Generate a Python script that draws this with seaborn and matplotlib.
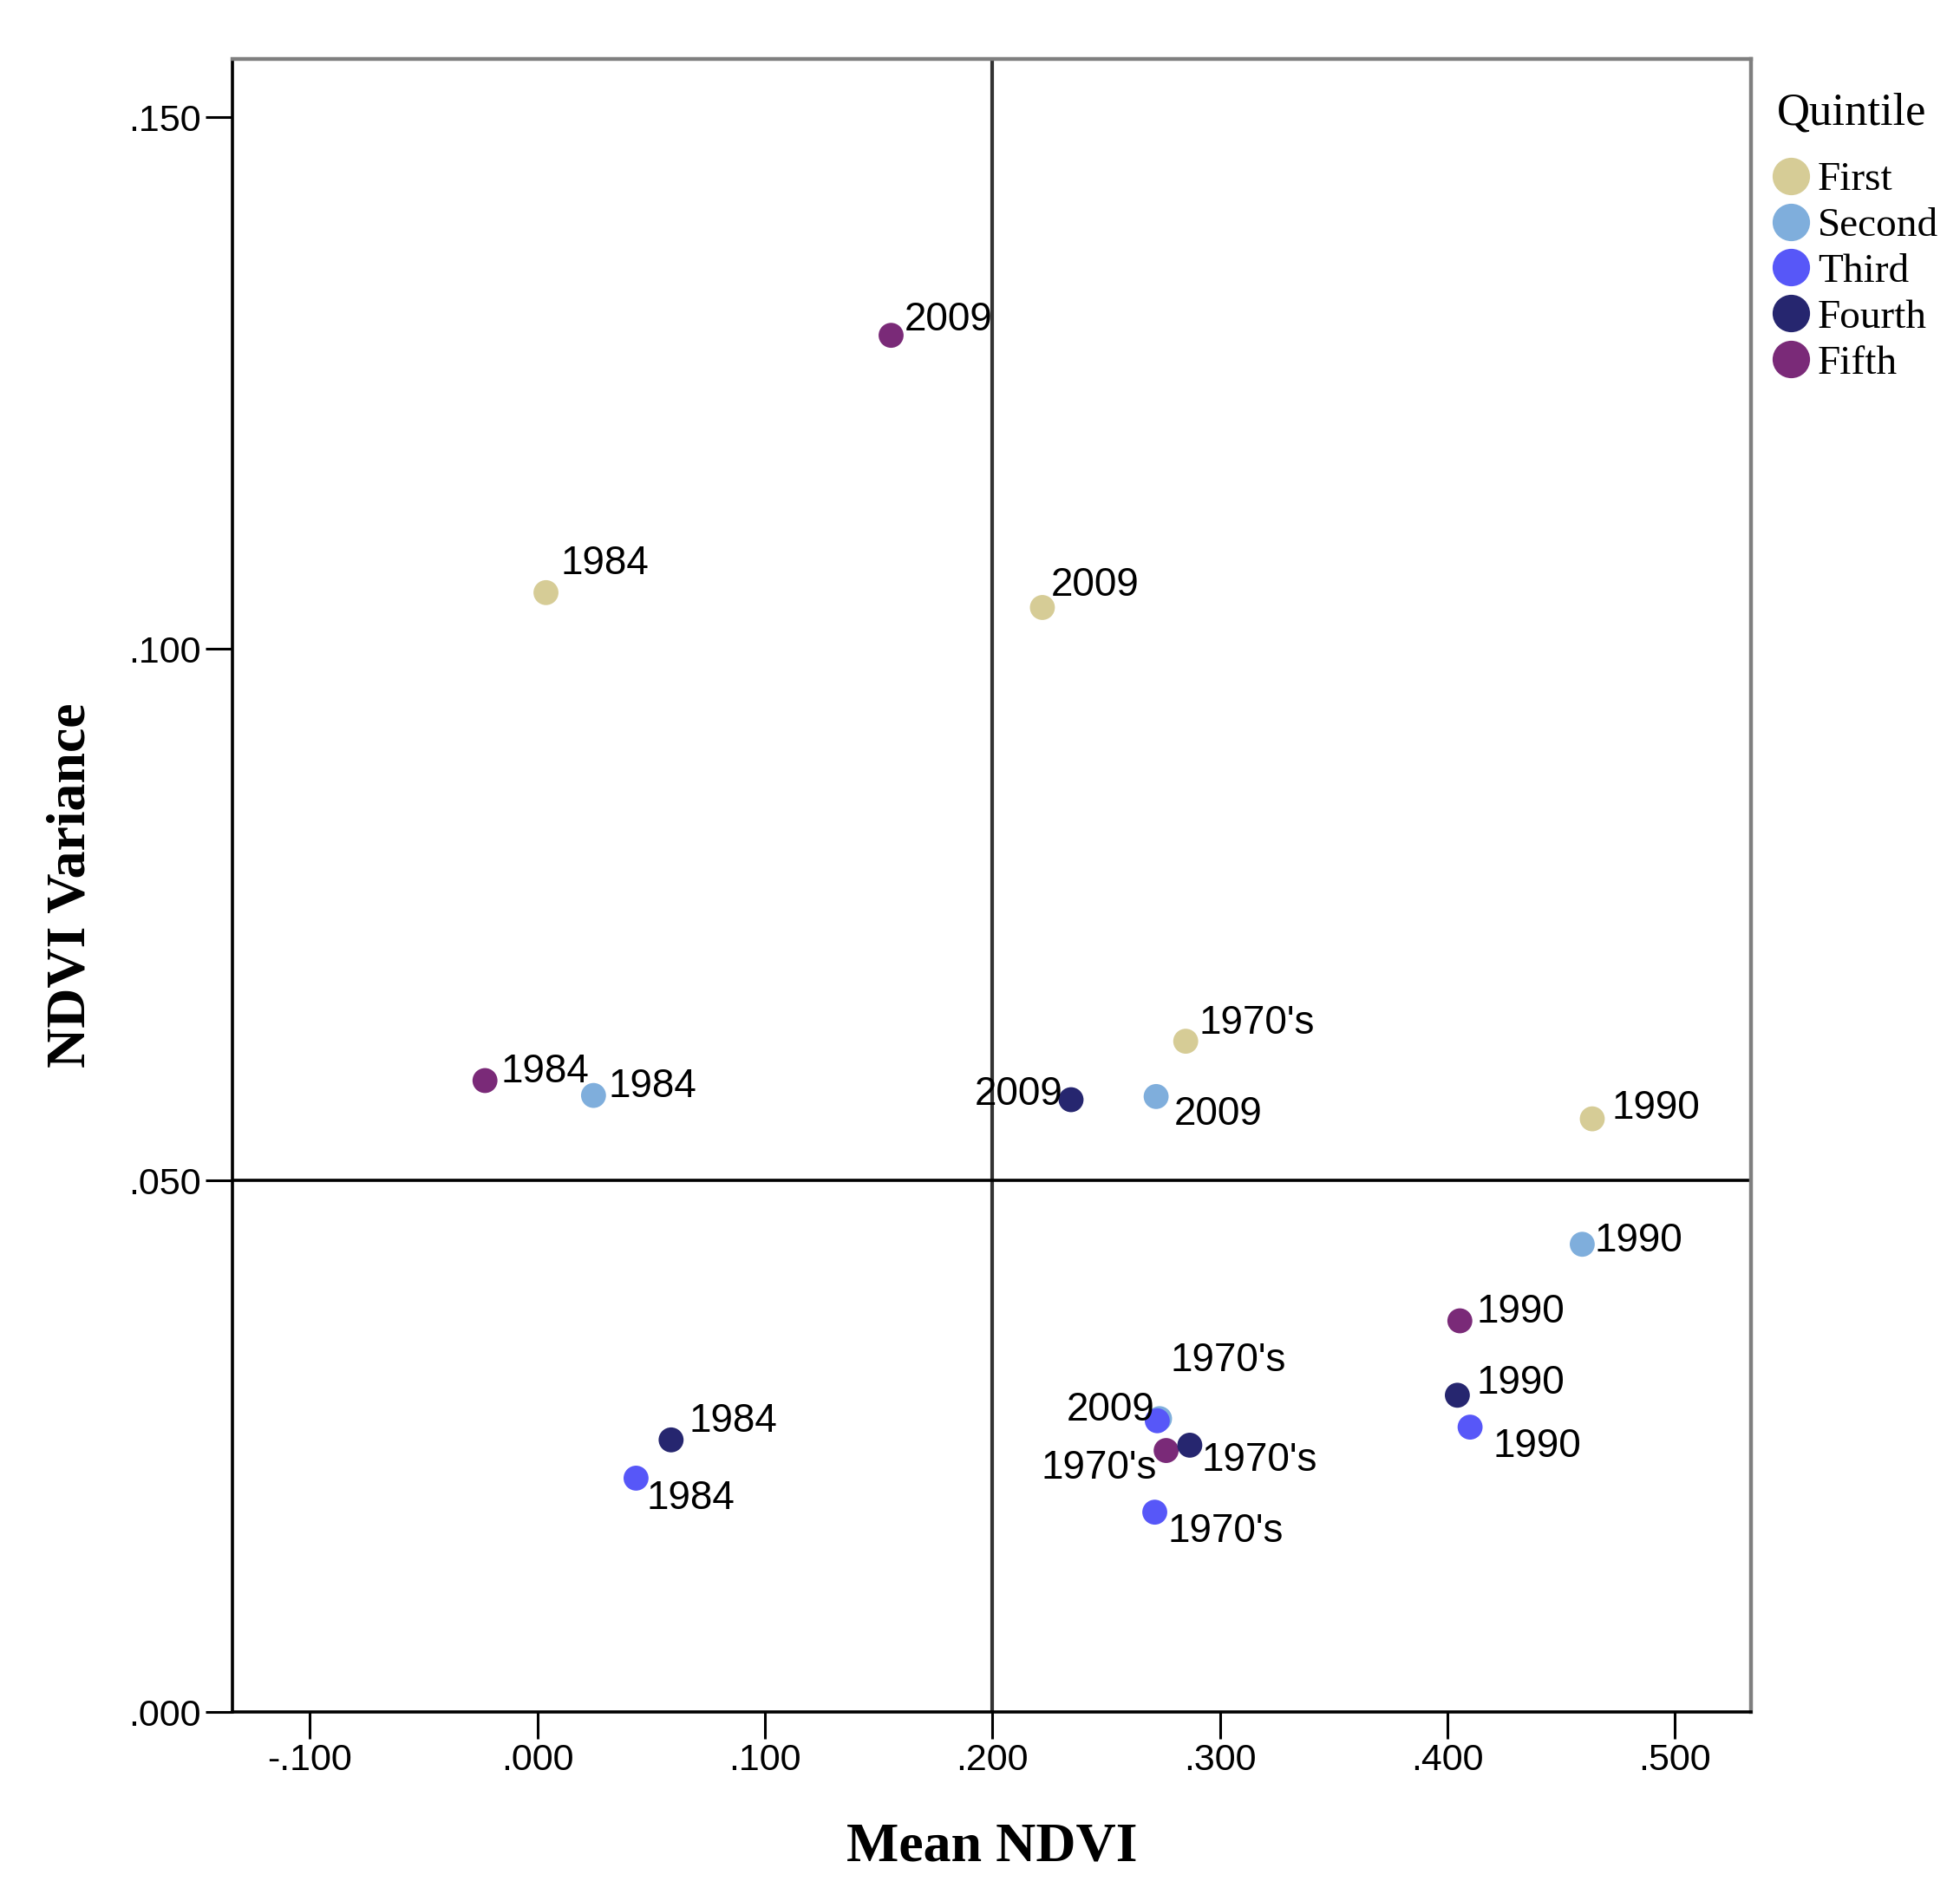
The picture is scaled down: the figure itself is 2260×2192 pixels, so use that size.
import matplotlib
matplotlib.use("Agg")
import matplotlib.pyplot as plt
from matplotlib.ticker import FuncFormatter
import seaborn as sns
import pandas as pd

# ---------------- data ----------------
quintiles = ["First", "Second", "Third", "Fourth", "Fifth"]
quintile_colors = ["#D6CC96", "#7FAEDC", "#5757F8", "#26266F", "#7A2A78"]

point_quintile = ["Fifth", "First", "First", "First", "Fifth", "Second", "Fourth",
                  "Second", "First", "Second", "Fifth", "Fourth", "Third", "Fourth",
                  "Third", "Second", "Third", "Fifth", "Fourth", "Third"]
point_year = ["2009", "1984", "2009", "1970's", "1984", "1984", "2009",
              "2009", "1990", "1990", "1990", "1990", "1990", "1984",
              "1984", "1970's", "2009", "1970's", "1970's", "1970's"]
mean_ndvi = [0.1555, 0.0038, 0.2220, 0.2850, -0.0230, 0.0247, 0.2346,
             0.2720, 0.4637, 0.4593, 0.4055, 0.4044, 0.4100, 0.0588,
             0.0434, 0.2735, 0.2725, 0.2764, 0.2868, 0.2714]
ndvi_variance = [0.1295, 0.1053, 0.1039, 0.0631, 0.0594, 0.0580, 0.0576,
                 0.0579, 0.0558, 0.0440, 0.0368, 0.0298, 0.0268, 0.0256,
                 0.0220, 0.0276, 0.0274, 0.0246, 0.0251, 0.0188]

# label placement (offset points from each mark)
label_dx = [11, 12, 7, 11, 13, 12, -7, 15, 16, 10, 14, 16, 19, 15, 9, 9, -2, -8, 10, 11]
label_dy = [13, 24, 18, 15, 7, 7, 4, -15, 9, 3, 7, 10, -16, 15, -17, 48, 9, -15, -13, -16]
label_ha = ["left", "left", "left", "left", "left", "left", "right", "left", "left",
            "left", "left", "left", "left", "left", "left", "left", "right", "right",
            "left", "left"]

x_ticks = [-0.1, 0.0, 0.1, 0.2, 0.3, 0.4, 0.5]
y_ticks = [0.0, 0.05, 0.10, 0.15]

df = pd.DataFrame({"Quintile": point_quintile, "Year": point_year,
                   "Mean NDVI": mean_ndvi, "NDVI Variance": ndvi_variance})

# ---------------- figure ----------------
sns.set_style("white")
plt.rcParams["font.family"] = ["Liberation Sans", "DejaVu Sans"]
plt.rcParams["text.color"] = "black"
plt.rcParams["axes.labelcolor"] = "black"
plt.rcParams["xtick.color"] = "black"
plt.rcParams["ytick.color"] = "black"

fig, ax = plt.subplots(figsize=(22.6, 21.92), dpi=100)
fig.subplots_adjust(left=0.1186, right=0.8934, top=0.969, bottom=0.0994)

ax.axvline(0.2, color="#333333", lw=3, zorder=1)
ax.axhline(0.05, color="black", lw=2.6, zorder=1)

sns.scatterplot(data=df, x="Mean NDVI", y="NDVI Variance", hue="Quintile",
                hue_order=quintiles, palette=quintile_colors, s=430,
                linewidth=0, ax=ax, zorder=3)

for xv, yv, t, dx, dy, ha in zip(mean_ndvi, ndvi_variance, point_year,
                                 label_dx, label_dy, label_ha):
    ax.annotate(t, (xv, yv), xytext=(dx, dy), textcoords="offset points",
                ha=ha, va="center", fontsize=33, color="black", zorder=4)

ax.set_xlim(-0.134, 0.5335)
ax.set_ylim(0.0, 0.1555)
ax.set_xticks(x_ticks)
ax.set_yticks(y_ticks)
fmt = FuncFormatter(lambda v, p: f"{v:.3f}".replace("0.", ".", 1))
ax.xaxis.set_major_formatter(fmt)
ax.yaxis.set_major_formatter(fmt)
ax.tick_params(axis="both", direction="out", length=22, width=2.2,
               color="black", labelcolor="black", labelsize=31, pad=4,
               bottom=True, left=True)

for side in ["left", "bottom"]:
    ax.spines[side].set_color("black")
    ax.spines[side].set_linewidth(2.6)
for side in ["top", "right"]:
    ax.spines[side].set_color("#7f7f7f")
    ax.spines[side].set_linewidth(3.2)

ax.set_xlabel("Mean NDVI", fontsize=46, fontweight="bold",
              family="Liberation Serif", va="center", color="black")
ax.set_ylabel("NDVI Variance", fontsize=46, fontweight="bold",
              family="Liberation Serif", va="center", ha="center", color="black")
ax.xaxis.set_label_coords(0.5, -0.082)
ax.yaxis.set_label_coords(-0.106, 0.5)

sns.move_legend(ax, "upper left", bbox_to_anchor=(1.017, 0.98), frameon=False,
                title="Quintile", markerscale=1.5, borderpad=0,
                handlelength=0.67, handletextpad=0.33, labelspacing=0.21,
                borderaxespad=0,
                prop={"family": "Liberation Serif", "size": 34},
                title_fontproperties={"family": "Liberation Serif", "size": 38},
                alignment="left")
leg = ax.get_legend()
leg._legend_box.sep = 23
for t in leg.get_texts():
    t.set_color("black")
leg.get_title().set_color("black")

fig.savefig("out.png", dpi=100)
